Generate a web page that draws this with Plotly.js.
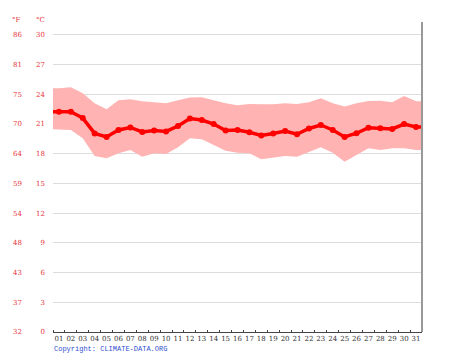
<!DOCTYPE html>
<html>
<head>
<meta charset="utf-8">
<script src="https://cdn.plot.ly/plotly-3.0.1.min.js"></script>
<style>html,body{margin:0;padding:0;background:#fff;}#chart{width:474px;height:355px;}</style>
</head>
<body>
<div id="chart"></div>
<script>
// Day labels
var days = ["01","02","03","04","05","06","07","08","09","10","11","12","13","14","15","16","17","18","19","20","21","22","23","24","25","26","27","28","29","30","31"];
// Mean daily temperature (°C)
var meanC = [22.25,22.25,21.6,20.05,19.7,20.4,20.65,20.2,20.35,20.25,20.8,21.55,21.4,21.0,20.35,20.4,20.17,19.85,20.05,20.3,19.97,20.55,20.9,20.4,19.7,20.07,20.62,20.57,20.5,21.0,20.7];
// Upper band (°C)
var highC = [24.6,24.7,24.1,23.1,22.5,23.4,23.5,23.3,23.2,23.1,23.4,23.67,23.7,23.4,23.1,22.9,23.03,23.0,23.0,23.1,23.03,23.2,23.6,23.1,22.76,23.1,23.33,23.36,23.2,23.84,23.3];
// Lower band (°C)
var lowC = [20.47,20.4,19.56,17.78,17.54,18.05,18.38,17.7,18.05,17.98,18.65,19.56,19.46,18.9,18.3,18.1,18.05,17.44,17.64,17.78,17.7,18.2,18.65,18.1,17.2,17.88,18.55,18.38,18.55,18.55,18.38];
// Axis tick values / labels
var cTicks = [0,3,6,9,12,15,18,21,24,27,30];
var fLabels = ["32","37","43","48","54","59","64","70","75","81","86"];

var idx = days.map(function(d,i){return i;});
function pad(a){ return [a[0]].concat(a, [a[a.length-1]]); }
var padX = [-0.5].concat(idx, [idx.length-0.5]);

var red = "#ff0000";
var lblRed = "#e8333a";
var traces = [
  {x: padX, y: pad(lowC), type: "scatter", mode: "lines", line: {width: 0, color: "rgba(0,0,0,0)"}, hoverinfo: "skip", showlegend: false},
  {x: padX, y: pad(highC), type: "scatter", mode: "lines", fill: "tonexty", fillcolor: "#ffb3b3", line: {width: 0, color: "rgba(0,0,0,0)"}, hoverinfo: "skip", showlegend: false},
  {x: padX, y: pad(meanC), type: "scatter", mode: "lines", line: {width: 3.5, color: red}, showlegend: false},
  {x: idx, y: meanC, type: "scatter", mode: "markers", marker: {size: 6, color: red}, showlegend: false},
  {x: [0], y: [0], yaxis: "y2", type: "scatter", mode: "markers", marker: {opacity: 0}, hoverinfo: "skip", showlegend: false}
];

var layout = {
  width: 474, height: 355,
  margin: {l: 53, r: 52, t: 22, b: 23, pad: 0},
  paper_bgcolor: "#fff", plot_bgcolor: "#fff",
  showlegend: false,
  xaxis: {
    range: [-0.5, 30.5], tickmode: "array", tickvals: idx, ticktext: days,
    ticks: "", showgrid: false, zeroline: false,
    showline: true, linecolor: "#444", linewidth: 1,
    tickfont: {family: "DejaVu Serif", size: 7, color: "#333"},
    ticklabelstandoff: 0,
    minor: {tickmode: "linear", tick0: 0.5, dtick: 1, ticks: "inside", ticklen: 2, tickcolor: "#444", showgrid: false},
    mirror: false, fixedrange: true
  },
  yaxis: {
    range: [0, 31.3], tickmode: "array", tickvals: cTicks, ticktext: cTicks.map(String),
    ticks: "", showgrid: true, gridcolor: "#dcdcdc", gridwidth: 1, zeroline: false,
    showline: false, ticklabelstandoff: 7,
    tickfont: {family: "DejaVu Serif", size: 7, color: lblRed}, fixedrange: true
  },
  yaxis2: {
    overlaying: "y", side: "left", anchor: "x",
    range: [0, 31.3], tickmode: "array", tickvals: cTicks, ticktext: fLabels,
    ticks: "", showgrid: false, zeroline: false, showline: false,
    ticklabelstandoff: 30,
    tickfont: {family: "DejaVu Serif", size: 7, color: lblRed}, fixedrange: true
  },
  shapes: [
    {type: "line", xref: "paper", yref: "paper", x0: 1, x1: 1, y0: 0, y1: 1, line: {color: "#999", width: 2}}
  ],
  annotations: [
    {text: "°F", xref: "paper", yref: "paper", x: -0.098, y: 1.006, yanchor: "middle", xanchor: "center", showarrow: false, font: {family: "DejaVu Serif", size: 7, color: lblRed}},
    {text: "°C", xref: "paper", yref: "paper", x: -0.035, y: 1.006, yanchor: "middle", xanchor: "center", showarrow: false, font: {family: "DejaVu Serif", size: 7, color: lblRed}},
    {text: "Copyright: CLIMATE-DATA.ORG", xref: "paper", yref: "paper", x: -0.003, y: -0.054, xanchor: "left", yanchor: "middle", showarrow: false, font: {family: "Liberation Mono", size: 7, color: "#3050d0"}}
  ]
};

Plotly.newPlot("chart", traces, layout, {displayModeBar: false, staticPlot: true});
</script>
</body>
</html>
